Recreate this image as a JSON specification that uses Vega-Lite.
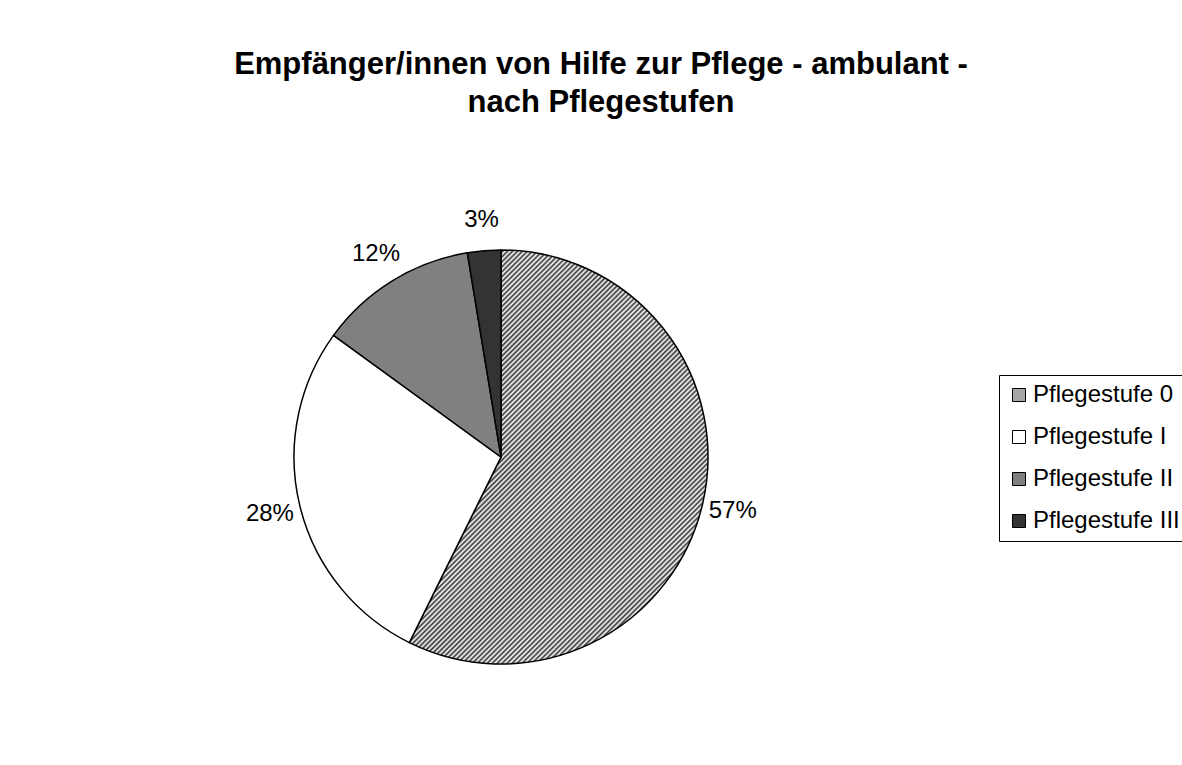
{
  "$schema": "https://vega.github.io/schema/vega-lite/v6.json",
  "autosize": {"type": "none"},
  "width": 1002,
  "height": 616,
  "padding": {"left": 0, "top": 149, "right": 180, "bottom": 0},
  "background": "white",
  "title": {
    "text": ["Empfänger/innen von Hilfe zur Pflege - ambulant -", "nach Pflegestufen"],
    "font": "Liberation Sans",
    "fontSize": 31,
    "fontWeight": "bold",
    "lineHeight": 38,
    "color": "black",
    "anchor": "middle",
    "dx": 100,
    "offset": 30
  },
  "data": {
    "values": [
      {"stufe": "Pflegestufe 0", "idx": 1, "share": 0.573},
      {"stufe": "Pflegestufe I", "idx": 2, "share": 0.277},
      {"stufe": "Pflegestufe II", "idx": 3, "share": 0.124},
      {"stufe": "Pflegestufe III", "idx": 4, "share": 0.026}
    ]
  },
  "encoding": {
    "theta": {"field": "share", "type": "quantitative", "stack": true},
    "order": {"field": "idx", "type": "quantitative"}
  },
  "layer": [
    {
      "mark": {"type": "arc", "outerRadius": 207, "stroke": "black", "strokeWidth": 1.5},
      "encoding": {
        "fill": {
          "condition": {
            "test": "datum.stufe === 'Pflegestufe 0'",
            "value": {"gradient": "linear", "x1": 0, "y1": 0, "x2": 0.7101, "y2": 0.9865, "stops": [
{"offset":0,"color":"#333"},{"offset":0.004,"color":"#fff"},{"offset":0.008,"color":"#333"},{"offset":0.012,"color":"#fff"},{"offset":0.016,"color":"#333"},{"offset":0.02,"color":"#fff"},{"offset":0.024,"color":"#333"},{"offset":0.028,"color":"#fff"},{"offset":0.032,"color":"#333"},{"offset":0.036,"color":"#fff"},{"offset":0.04,"color":"#333"},{"offset":0.044,"color":"#fff"},{"offset":0.048,"color":"#333"},{"offset":0.052,"color":"#fff"},{"offset":0.056,"color":"#333"},{"offset":0.06,"color":"#fff"},{"offset":0.064,"color":"#333"},{"offset":0.068,"color":"#fff"},{"offset":0.072,"color":"#333"},{"offset":0.076,"color":"#fff"},{"offset":0.08,"color":"#333"},{"offset":0.084,"color":"#fff"},{"offset":0.088,"color":"#333"},{"offset":0.092,"color":"#fff"},{"offset":0.096,"color":"#333"},
{"offset":0.1,"color":"#fff"},{"offset":0.104,"color":"#333"},{"offset":0.108,"color":"#fff"},{"offset":0.112,"color":"#333"},{"offset":0.116,"color":"#fff"},{"offset":0.12,"color":"#333"},{"offset":0.124,"color":"#fff"},{"offset":0.128,"color":"#333"},{"offset":0.132,"color":"#fff"},{"offset":0.136,"color":"#333"},{"offset":0.14,"color":"#fff"},{"offset":0.144,"color":"#333"},{"offset":0.148,"color":"#fff"},{"offset":0.152,"color":"#333"},{"offset":0.156,"color":"#fff"},{"offset":0.16,"color":"#333"},{"offset":0.164,"color":"#fff"},{"offset":0.168,"color":"#333"},{"offset":0.172,"color":"#fff"},{"offset":0.176,"color":"#333"},{"offset":0.18,"color":"#fff"},{"offset":0.184,"color":"#333"},{"offset":0.188,"color":"#fff"},{"offset":0.192,"color":"#333"},{"offset":0.196,"color":"#fff"},
{"offset":0.2,"color":"#333"},{"offset":0.204,"color":"#fff"},{"offset":0.208,"color":"#333"},{"offset":0.212,"color":"#fff"},{"offset":0.216,"color":"#333"},{"offset":0.22,"color":"#fff"},{"offset":0.224,"color":"#333"},{"offset":0.228,"color":"#fff"},{"offset":0.232,"color":"#333"},{"offset":0.236,"color":"#fff"},{"offset":0.24,"color":"#333"},{"offset":0.244,"color":"#fff"},{"offset":0.248,"color":"#333"},{"offset":0.252,"color":"#fff"},{"offset":0.256,"color":"#333"},{"offset":0.26,"color":"#fff"},{"offset":0.264,"color":"#333"},{"offset":0.268,"color":"#fff"},{"offset":0.272,"color":"#333"},{"offset":0.276,"color":"#fff"},{"offset":0.28,"color":"#333"},{"offset":0.284,"color":"#fff"},{"offset":0.288,"color":"#333"},{"offset":0.292,"color":"#fff"},{"offset":0.296,"color":"#333"},
{"offset":0.3,"color":"#fff"},{"offset":0.304,"color":"#333"},{"offset":0.308,"color":"#fff"},{"offset":0.312,"color":"#333"},{"offset":0.316,"color":"#fff"},{"offset":0.32,"color":"#333"},{"offset":0.324,"color":"#fff"},{"offset":0.328,"color":"#333"},{"offset":0.332,"color":"#fff"},{"offset":0.336,"color":"#333"},{"offset":0.34,"color":"#fff"},{"offset":0.344,"color":"#333"},{"offset":0.348,"color":"#fff"},{"offset":0.352,"color":"#333"},{"offset":0.356,"color":"#fff"},{"offset":0.36,"color":"#333"},{"offset":0.364,"color":"#fff"},{"offset":0.368,"color":"#333"},{"offset":0.372,"color":"#fff"},{"offset":0.376,"color":"#333"},{"offset":0.38,"color":"#fff"},{"offset":0.384,"color":"#333"},{"offset":0.388,"color":"#fff"},{"offset":0.392,"color":"#333"},{"offset":0.396,"color":"#fff"},
{"offset":0.4,"color":"#333"},{"offset":0.404,"color":"#fff"},{"offset":0.408,"color":"#333"},{"offset":0.412,"color":"#fff"},{"offset":0.416,"color":"#333"},{"offset":0.42,"color":"#fff"},{"offset":0.424,"color":"#333"},{"offset":0.428,"color":"#fff"},{"offset":0.432,"color":"#333"},{"offset":0.436,"color":"#fff"},{"offset":0.44,"color":"#333"},{"offset":0.444,"color":"#fff"},{"offset":0.448,"color":"#333"},{"offset":0.452,"color":"#fff"},{"offset":0.456,"color":"#333"},{"offset":0.46,"color":"#fff"},{"offset":0.464,"color":"#333"},{"offset":0.468,"color":"#fff"},{"offset":0.472,"color":"#333"},{"offset":0.476,"color":"#fff"},{"offset":0.48,"color":"#333"},{"offset":0.484,"color":"#fff"},{"offset":0.488,"color":"#333"},{"offset":0.492,"color":"#fff"},{"offset":0.496,"color":"#333"},
{"offset":0.5,"color":"#fff"},{"offset":0.504,"color":"#333"},{"offset":0.508,"color":"#fff"},{"offset":0.512,"color":"#333"},{"offset":0.516,"color":"#fff"},{"offset":0.52,"color":"#333"},{"offset":0.524,"color":"#fff"},{"offset":0.528,"color":"#333"},{"offset":0.532,"color":"#fff"},{"offset":0.536,"color":"#333"},{"offset":0.54,"color":"#fff"},{"offset":0.544,"color":"#333"},{"offset":0.548,"color":"#fff"},{"offset":0.552,"color":"#333"},{"offset":0.556,"color":"#fff"},{"offset":0.56,"color":"#333"},{"offset":0.564,"color":"#fff"},{"offset":0.568,"color":"#333"},{"offset":0.572,"color":"#fff"},{"offset":0.576,"color":"#333"},{"offset":0.58,"color":"#fff"},{"offset":0.584,"color":"#333"},{"offset":0.588,"color":"#fff"},{"offset":0.592,"color":"#333"},{"offset":0.596,"color":"#fff"},
{"offset":0.6,"color":"#333"},{"offset":0.604,"color":"#fff"},{"offset":0.608,"color":"#333"},{"offset":0.612,"color":"#fff"},{"offset":0.616,"color":"#333"},{"offset":0.62,"color":"#fff"},{"offset":0.624,"color":"#333"},{"offset":0.628,"color":"#fff"},{"offset":0.632,"color":"#333"},{"offset":0.636,"color":"#fff"},{"offset":0.64,"color":"#333"},{"offset":0.644,"color":"#fff"},{"offset":0.648,"color":"#333"},{"offset":0.652,"color":"#fff"},{"offset":0.656,"color":"#333"},{"offset":0.66,"color":"#fff"},{"offset":0.664,"color":"#333"},{"offset":0.668,"color":"#fff"},{"offset":0.672,"color":"#333"},{"offset":0.676,"color":"#fff"},{"offset":0.68,"color":"#333"},{"offset":0.684,"color":"#fff"},{"offset":0.688,"color":"#333"},{"offset":0.692,"color":"#fff"},{"offset":0.696,"color":"#333"},
{"offset":0.7,"color":"#fff"},{"offset":0.704,"color":"#333"},{"offset":0.708,"color":"#fff"},{"offset":0.712,"color":"#333"},{"offset":0.716,"color":"#fff"},{"offset":0.72,"color":"#333"},{"offset":0.724,"color":"#fff"},{"offset":0.728,"color":"#333"},{"offset":0.732,"color":"#fff"},{"offset":0.736,"color":"#333"},{"offset":0.74,"color":"#fff"},{"offset":0.744,"color":"#333"},{"offset":0.748,"color":"#fff"},{"offset":0.752,"color":"#333"},{"offset":0.756,"color":"#fff"},{"offset":0.76,"color":"#333"},{"offset":0.764,"color":"#fff"},{"offset":0.768,"color":"#333"},{"offset":0.772,"color":"#fff"},{"offset":0.776,"color":"#333"},{"offset":0.78,"color":"#fff"},{"offset":0.784,"color":"#333"},{"offset":0.788,"color":"#fff"},{"offset":0.792,"color":"#333"},{"offset":0.796,"color":"#fff"},
{"offset":0.8,"color":"#333"},{"offset":0.804,"color":"#fff"},{"offset":0.808,"color":"#333"},{"offset":0.812,"color":"#fff"},{"offset":0.816,"color":"#333"},{"offset":0.82,"color":"#fff"},{"offset":0.824,"color":"#333"},{"offset":0.828,"color":"#fff"},{"offset":0.832,"color":"#333"},{"offset":0.836,"color":"#fff"},{"offset":0.84,"color":"#333"},{"offset":0.844,"color":"#fff"},{"offset":0.848,"color":"#333"},{"offset":0.852,"color":"#fff"},{"offset":0.856,"color":"#333"},{"offset":0.86,"color":"#fff"},{"offset":0.864,"color":"#333"},{"offset":0.868,"color":"#fff"},{"offset":0.872,"color":"#333"},{"offset":0.876,"color":"#fff"},{"offset":0.88,"color":"#333"},{"offset":0.884,"color":"#fff"},{"offset":0.888,"color":"#333"},{"offset":0.892,"color":"#fff"},{"offset":0.896,"color":"#333"},
{"offset":0.9,"color":"#fff"},{"offset":0.904,"color":"#333"},{"offset":0.908,"color":"#fff"},{"offset":0.912,"color":"#333"},{"offset":0.916,"color":"#fff"},{"offset":0.92,"color":"#333"},{"offset":0.924,"color":"#fff"},{"offset":0.928,"color":"#333"},{"offset":0.932,"color":"#fff"},{"offset":0.936,"color":"#333"},{"offset":0.94,"color":"#fff"},{"offset":0.944,"color":"#333"},{"offset":0.948,"color":"#fff"},{"offset":0.952,"color":"#333"},{"offset":0.956,"color":"#fff"},{"offset":0.96,"color":"#333"},{"offset":0.964,"color":"#fff"},{"offset":0.968,"color":"#333"},{"offset":0.972,"color":"#fff"},{"offset":0.976,"color":"#333"},{"offset":0.98,"color":"#fff"},{"offset":0.984,"color":"#333"},{"offset":0.988,"color":"#fff"},{"offset":0.992,"color":"#333"},{"offset":0.996,"color":"#fff"},
{"offset":1,"color":"#333"}
            ]}
          },
          "field": "stufe",
          "type": "nominal",
          "sort": ["Pflegestufe 0", "Pflegestufe I", "Pflegestufe II", "Pflegestufe III"],
          "scale": {
            "domain": ["Pflegestufe 0", "Pflegestufe I", "Pflegestufe II", "Pflegestufe III"],
            "range": ["#a6a6a6", "#ffffff", "#808080", "#333333"]
          },
          "legend": {
            "title": null,
            "orient": "none",
            "legendX": 999,
            "legendY": 226,
            "symbolType": "square",
            "symbolSize": 169,
            "symbolStrokeColor": "black",
            "symbolStrokeWidth": 1,
            "labelFont": "Liberation Sans",
            "labelFontSize": 24,
            "labelColor": "black",
            "labelOffset": 2,
            "labelLimit": 400,
            "rowPadding": 18,
            "padding": 8,
            "strokeColor": "black",
            "fillColor": "white",
            "encode": {
              "symbols": {
                "update": {
                  "fill": {
                    "condition": [
                      {"test": "datum.value === 'Pflegestufe 0'", "value": {"gradient": "linear", "x1": 0, "y1": 0, "x2": 0.5, "y2": 0.5, "stops": [
                        {"offset": 0, "color": "#fff"}, {"offset": 0.17, "color": "#333"}, {"offset": 0.33, "color": "#fff"}, {"offset": 0.5, "color": "#333"}, {"offset": 0.67, "color": "#fff"}, {"offset": 0.83, "color": "#333"}, {"offset": 1, "color": "#fff"}
                      ]}},
                      {"test": "datum.value === 'Pflegestufe I'", "value": "#ffffff"},
                      {"test": "datum.value === 'Pflegestufe II'", "value": "#808080"}
                    ],
                    "value": "#333333"
                  },
                  "stroke": {"value": "black"},
                  "strokeWidth": {"value": 1},
                  "opacity": {"value": 1}
                }
              }
            }
          }
        }
      }
    },
    {
      "mark": {"type": "text", "radius": 238, "font": "Liberation Sans", "fontSize": 24, "color": "black"},
      "encoding": {
        "text": {"field": "share", "type": "quantitative", "format": ".0%"}
      }
    }
  ],
  "config": {"view": {"stroke": null}}
}
